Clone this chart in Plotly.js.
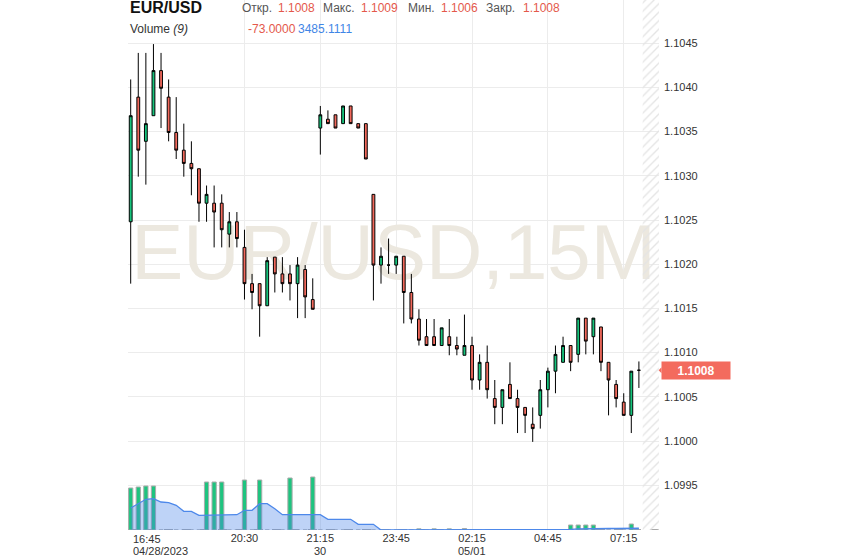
<!DOCTYPE html>
<html>
<head>
<meta charset="utf-8">
<script src="https://cdn.plot.ly/plotly-3.0.1.min.js"></script>
<style>
html,body{margin:0;padding:0;background:#ffffff;}
#chart{width:843px;height:558px;}
</style>
</head>
<body>
<div id="chart"></div>
<script>
// ---------------- DATA ----------------
const symbol = 'EUR/USD';
const watermarkText = 'EUR/USD,15M';

// 15-minute bar labels (Fri 04/28/2023, then Sun 30 → Mon 05/01)
const times = [
  '16:45','17:00','17:15','17:30','17:45','18:00','18:15','18:30','18:45','19:00',
  '19:15','19:30','19:45','20:00','20:15','20:30','20:45','21:00','21:15','21:30',
  '21:45','22:00','22:15','22:30','22:45','21:15','21:30','21:45','22:00','22:15',
  '22:30','22:45','23:00','23:15','23:30','23:45','00:00','00:15','00:30','00:45',
  '01:00','01:15','01:30','01:45','02:00','02:15','02:30','02:45','03:00','03:15',
  '03:30','03:45','04:00','04:15','04:30','04:45','05:00','05:15','05:30','05:45',
  '06:00','06:15','06:30','06:45','07:00','07:15','07:30','07:45'
];

const open = [
  1.10248,1.10389,1.10339,1.10368,1.10419,1.10389,1.10349,1.10329,1.10314,1.10308,
  1.10269,1.10269,1.10269,1.10234,1.10248,1.10219,1.10178,1.10178,1.10153,1.10208,
  1.10189,1.10189,1.10178,1.10194,1.10160,1.10354,1.10364,1.10369,1.10359,1.10379,
  1.10359,1.10359,1.10279,1.10199,1.10199,1.10199,1.10209,1.10168,1.10138,1.10118,
  1.10118,1.10108,1.10118,1.10108,1.10097,1.10108,1.10069,1.10089,1.10048,1.10038,
  1.10064,1.10048,1.10038,1.10019,1.10029,1.10058,1.10079,1.10089,1.10108,1.10098,
  1.10139,1.10118,1.10129,1.10089,1.10064,1.10044,1.10029,1.10080
];
const high = [
  1.10409,1.10439,1.10439,1.10449,1.10439,1.10409,1.10389,1.10359,1.10339,1.10308,
  1.10289,1.10289,1.10279,1.10259,1.10259,1.10239,1.10189,1.10178,1.10208,1.10208,
  1.10208,1.10199,1.10208,1.10199,1.10184,1.10379,1.10374,1.10369,1.10379,1.10379,
  1.10359,1.10359,1.10279,1.10219,1.10229,1.10209,1.10209,1.10189,1.10149,1.10138,
  1.10138,1.10128,1.10138,1.10118,1.10143,1.10118,1.10098,1.10108,1.10069,1.10058,
  1.10089,1.10058,1.10038,1.10038,1.10069,1.10083,1.10108,1.10118,1.10108,1.10139,
  1.10139,1.10139,1.10129,1.10089,1.10069,1.10054,1.10079,1.10090
];
const low = [
  1.10178,1.10299,1.10290,1.10368,1.10354,1.10339,1.10319,1.10299,1.10278,1.10248,
  1.10248,1.10219,1.10219,1.10219,1.10219,1.10160,1.10149,1.10118,1.10153,1.10168,
  1.10168,1.10159,1.10139,1.10139,1.10149,1.10324,1.10359,1.10354,1.10359,1.10359,
  1.10354,1.10319,1.10159,1.10178,1.10189,1.10189,1.10133,1.10133,1.10108,1.10108,
  1.10108,1.10108,1.10097,1.10097,1.10097,1.10058,1.10058,1.10048,1.10019,1.10019,
  1.10048,1.10009,1.10009,1.09999,1.10014,1.10038,1.10054,1.10089,1.10079,1.10089,
  1.10098,1.10098,1.10079,1.10029,1.10038,1.10029,1.10009,1.10060
];
const close = [
  1.10368,1.10329,1.10359,1.10419,1.10399,1.10349,1.10329,1.10314,1.10308,1.10269,
  1.10279,1.10259,1.10239,1.10248,1.10229,1.10178,1.10168,1.10153,1.10204,1.10189,
  1.10178,1.10178,1.10199,1.10163,1.10149,1.10369,1.10359,1.10354,1.10379,1.10359,
  1.10354,1.10319,1.10199,1.10209,1.10199,1.10209,1.10168,1.10138,1.10114,1.10108,
  1.10108,1.10128,1.10108,1.10104,1.10108,1.10069,1.10089,1.10058,1.10038,1.10058,
  1.10048,1.10038,1.10029,1.10014,1.10058,1.10079,1.10098,1.10108,1.10089,1.10139,
  1.10113,1.10139,1.10089,1.10069,1.10048,1.10029,1.10079,1.10080
];

const volume = [
  84000,86000,88000,88000,0,0,0,0,0,0,
  96000,96000,96000,0,0,100000,0,100000,0,0,
  0,104000,0,0,106000,0,0,0,0,0,
  0,0,0,0,0,0,0,0,2400,0,
  2400,0,2400,0,3000,0,0,0,0,0,
  0,0,0,0,0,0,0,0,10000,10000,
  10000,10000,0,0,0,0,12000,0
];
const volumeMA = [
  44000,52000,61400,62600,56000,54600,49400,37400,37400,29400,
  29400,30600,30600,30600,30600,39400,39400,52600,52600,42600,
  30600,30600,30600,30600,30600,30600,21400,21400,21400,21400,
  11400,11400,11400,0,0,0,0,0,0,0,
  0,0,0,0,0,0,0,0,0,0,
  0,0,0,0,0,0,0,0,1100,2200,
  2800,3200,3200,3200,3200,3200,3600,3485.1111
];

const priceTicks = [1.0995,1.1000,1.1005,1.1010,1.1015,1.1020,1.1025,1.1030,1.1035,1.1040,1.1045];
const timeTickIdx = [15,25,35,45,55,65];
const dateIdx = [0,25,45];
const dateText = ['04/28/2023','30','05/01'];

const statLabels = ['Откр.','Макс.','Мин.','Закр.'];
const statValues = ['1.1008','1.1009','1.1006','1.1008'];
const volumeTitle = 'Volume <i>(9)</i>';
const volumeStats = ['-73.0000','3485.1111'];

// ---------------- GEOMETRY ----------------
const FONT = '"Liberation Sans", Arial, sans-serif';
const W = 843, H = 558;
const M = {l:128, r:184, t:0, b:28};
const plotW = W - M.l - M.r;   // 531
const plotH = H - M.t - M.b;   // 530
const firstBarPx = 130.7, pxPerBar = 7.585;
const xRange = [-(firstBarPx - M.l) / pxPerBar, (M.l + plotW - firstBarPx) / pxPerBar];
const refPrice = 1.1000, refPricePx = 441, pxPerPrice = 88400;
const yRange = [refPrice - (plotH - refPricePx) / pxPerPrice, refPrice + refPricePx / pxPerPrice];
const volPerPx = 2000;
const vRange = [0, plotH * volPerPx];

const idx = times.map((t, i) => i);
const N = times.length;
const px2x = px => (px - M.l) / plotW;
const py2y = py => (plotH - (py - M.t)) / plotH;
const priceAtPx = py => refPrice + (refPricePx - py) / pxPerPrice;

const GREEN = '#16c47c', RED = '#f2695c';
const HEAD_RED = '#e4584b', HEAD_BLUE = '#3f86e6';

// ---------------- TRACES ----------------
const traces = [
  { // watermark (bottom layer)
    type:'scatter', mode:'text', xaxis:'x', yaxis:'y',
    x:[(xRange[0] + xRange[1]) / 2], y:[priceAtPx(259)],
    text:[watermarkText], textposition:'middle center',
    textfont:{family:FONT, size:78, color:'#ece8df'},
    hoverinfo:'skip', showlegend:false
  },
  { // future area hatch
    type:'bar', xaxis:'x', yaxis:'y2',
    x:[((N - 0.5) + xRange[1]) / 2], y:[1], width:[xRange[1] - (N - 0.5)],
    marker:{color:'rgba(0,0,0,0)', line:{width:0},
      pattern:{shape:'/', size:6, solidity:0.22, fgcolor:'#e4e4e4', bgcolor:'rgba(0,0,0,0)'}},
    hoverinfo:'skip', showlegend:false
  },
  { // candles
    type:'candlestick', xaxis:'x', yaxis:'y3',
    x:idx, open:open, high:high, low:low, close:close,
    increasing:{line:{color:'#000000', width:1}, fillcolor:GREEN},
    decreasing:{line:{color:'#000000', width:1}, fillcolor:RED},
    whiskerwidth:0, hoverinfo:'skip', showlegend:false
  },
  { // volume bars
    type:'bar', xaxis:'x', yaxis:'y4',
    x:idx, y:volume, width:0.56,
    marker:{color:'#1ec47f', line:{color:'#ababab', width:1}},
    hoverinfo:'skip', showlegend:false
  },
  { // volume moving average area
    type:'scatter', mode:'lines', xaxis:'x', yaxis:'y4',
    x:idx, y:volumeMA, fill:'tozeroy',
    fillcolor:'rgba(74,134,232,0.36)',
    line:{color:'#4d88ea', width:1.3},
    hoverinfo:'skip', showlegend:false
  }
];

// ---------------- ANNOTATIONS ----------------
const ann = [];
ann.push({xref:'paper', yref:'paper', x:px2x(129), y:py2y(7.5), xanchor:'left', yanchor:'middle',
  text:'<b>' + symbol + '</b>', showarrow:false, font:{family:FONT, size:16, color:'#111'}, borderpad:0});
const labelPx = [240.7, 321.7, 406.7, 485];
const valuePx = [276.7, 360, 440, 521.7];
statLabels.forEach((s, i) => {
  ann.push({xref:'paper', yref:'paper', x:px2x(labelPx[i]), y:py2y(8), xanchor:'left', yanchor:'middle',
    text:s, showarrow:false, font:{family:FONT, size:12, color:'#555'}, borderpad:0});
  ann.push({xref:'paper', yref:'paper', x:px2x(valuePx[i]), y:py2y(8), xanchor:'left', yanchor:'middle',
    text:statValues[i], showarrow:false, font:{family:FONT, size:12, color:HEAD_RED}, borderpad:0});
});
ann.push({xref:'paper', yref:'paper', x:px2x(129), y:py2y(29), xanchor:'left', yanchor:'middle',
  text:volumeTitle, showarrow:false, font:{family:FONT, size:12, color:'#333'}, borderpad:0});
ann.push({xref:'paper', yref:'paper', x:px2x(246.7), y:py2y(29), xanchor:'left', yanchor:'middle',
  text:volumeStats[0], showarrow:false, font:{family:FONT, size:12, color:HEAD_RED}, borderpad:0});
ann.push({xref:'paper', yref:'paper', x:px2x(296.7), y:py2y(29), xanchor:'left', yanchor:'middle',
  text:volumeStats[1], showarrow:false, font:{family:FONT, size:12, color:HEAD_BLUE}, borderpad:0});

// first time label (left aligned at plot start)
ann.push({xref:'x', yref:'paper', x:idx[0], y:py2y(539), xanchor:'left', yanchor:'middle',
  xshift:1, text:times[0], showarrow:false, font:{family:FONT, size:11, color:'#333'}, borderpad:0});
// date second line
dateIdx.forEach((d, i) => {
  ann.push({xref:'x', yref:'paper', x:d, y:py2y(550.5), xanchor: i === 0 ? 'left' : 'center', yanchor:'middle',
    xshift: i === 0 ? 1 : 0,
    text:dateText[i], showarrow:false, font:{family:FONT, size:11, color:'#333'}, borderpad:0});
});
// last price label
const lastClose = close[N - 1];
ann.push({xref:'paper', yref:'y', x:px2x(660.7), y:lastClose, xanchor:'left', yanchor:'middle',
  text:'<b>' + lastClose.toFixed(4) + '</b>', showarrow:false, width:68, height:17,
  bgcolor:'#f36b5e', borderpad:0, font:{family:FONT, size:12, color:'#ffffff'}});

// ---------------- SHAPES ----------------
const lastPaperY = (lastClose - yRange[0]) / (yRange[1] - yRange[0]);
const dy = 3 / plotH;
const shapes = [
  {type:'rect', layer:'between', xref:'paper', yref:'paper', x0:px2x(M.l), x1:px2x(357), y0:py2y(35), y1:py2y(0),
    fillcolor:'#ffffff', line:{width:0}},
  {type:'rect', layer:'between', xref:'paper', yref:'paper', x0:px2x(357), x1:px2x(562), y0:py2y(14), y1:py2y(0),
    fillcolor:'#ffffff', line:{width:0}},
  {type:'line', layer:'between', xref:'paper', yref:'paper', x0:0, x1:1, y0:py2y(529.5), y1:py2y(529.5),
    line:{color:'#a9a9a9', width:1, dash:'dash'}},
  {type:'path', layer:'above', xref:'paper', yref:'paper',
    path:'M ' + px2x(661.5) + ',' + (lastPaperY + dy) + ' L ' + px2x(658.6) + ',' + lastPaperY +
         ' L ' + px2x(661.5) + ',' + (lastPaperY - dy) + ' Z',
    fillcolor:'#f36b5e', line:{width:0}}
];

// ---------------- LAYOUT ----------------
const layout = {
  width:W, height:H, margin:{l:M.l, r:M.r, t:M.t, b:M.b, pad:0},
  paper_bgcolor:'#ffffff', plot_bgcolor:'#ffffff',
  showlegend:false, boxgap:0.47, barmode:'overlay',
  font:{family:FONT, size:11, color:'#333'},
  xaxis:{
    range:xRange, tickmode:'array', tickvals:timeTickIdx, ticktext:timeTickIdx.map(i => times[i]),
    showgrid:true, gridcolor:'#ececec', gridwidth:1, zeroline:false, showline:false, ticks:'',
    tickfont:{family:FONT, size:11, color:'#333'}, rangeslider:{visible:false}, fixedrange:true
  },
  yaxis:{
    range:yRange, side:'right', tickmode:'array', tickvals:priceTicks,
    ticktext:priceTicks.map(v => v.toFixed(4)),
    showgrid:true, gridcolor:'#ececec', gridwidth:1, zeroline:false, showline:false, ticks:'',
    tickfont:{family:FONT, size:11, color:'#333'}, ticklabelstandoff:4, fixedrange:true
  },
  yaxis2:{overlaying:'y', range:[0, 1], visible:false, fixedrange:true},
  yaxis3:{overlaying:'y', range:yRange, visible:false, fixedrange:true},
  yaxis4:{overlaying:'y', range:vRange, visible:false, fixedrange:true},
  annotations:ann,
  shapes:shapes
};

Plotly.newPlot('chart', traces, layout, {displayModeBar:false, staticPlot:true});
</script>
</body>
</html>
